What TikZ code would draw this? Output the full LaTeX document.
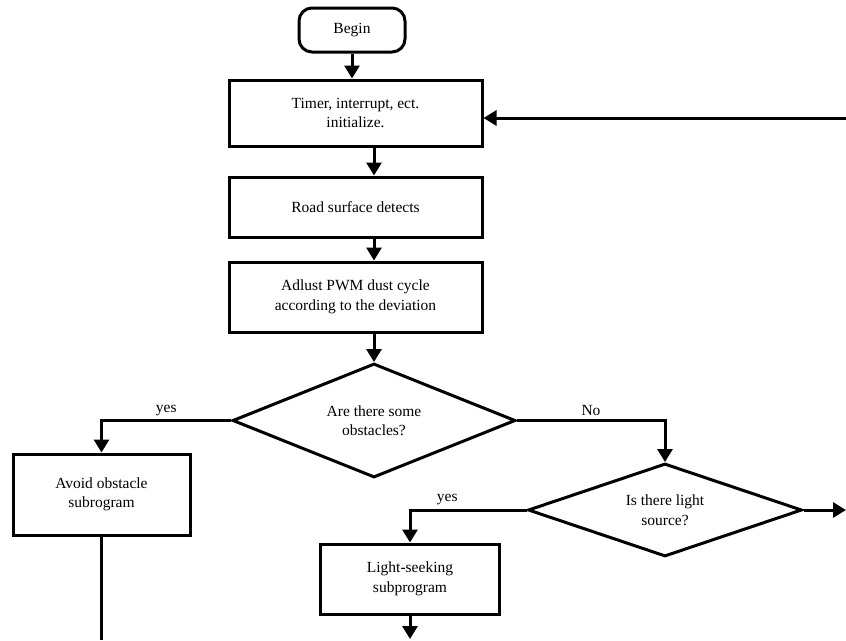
\documentclass[tikz,border=0pt]{standalone}
\usepackage{fontspec}
\setmainfont{Liberation Serif}
\usepackage{tikz}
\usetikzlibrary{shapes.geometric,arrows.meta}

\begin{document}
\begin{tikzpicture}[x=1pt,y=-1pt,
    every node/.style={font=\fontsize{15.5}{19.5}\selectfont,align=center},
    stepbox/.style={draw,line width=3pt,inner sep=2pt},
    startbox/.style={draw,line width=3pt,rounded corners=13pt,minimum width=106pt,minimum height=44pt},
    decide/.style={draw,diamond,aspect=2.6,line width=3pt,inner sep=0pt},
    flow/.style={line width=3pt,-{Triangle[width=15pt,length=13pt]}},
    plain/.style={line width=3pt}]
    \useasboundingbox (0,0) rectangle (846,640);
    \node[startbox] (begin) at (352,30) {Begin};
    \node[stepbox,minimum width=253pt,minimum height=66pt] (init) at (355.5,113) {Timer, interrupt, ect.\\initialize.};
    \node[stepbox,minimum width=253pt,minimum height=60pt] (road) at (355.5,207) {Road surface detects};
    \node[stepbox,minimum width=253pt,minimum height=70pt] (adjust) at (355.5,297) {Adlust PWM dust cycle\\according to the deviation};
    \node[decide,minimum width=283pt,minimum height=114pt] (obst) at (374,420.5) {Are there some\\obstacles?};
    \node[stepbox,minimum width=177pt,minimum height=81pt] (avoid) at (101.5,494.5) {Avoid obstacle\\subrogram};
    \node[decide,minimum width=274pt,minimum height=93pt] (light) at (665,510) {Is there light\\source?};
    \node[stepbox,minimum width=179pt,minimum height=70pt] (seek) at (410,579) {Light-seeking\\subprogram};
    \coordinate (back) at (846,118);
    \coordinate (out) at (846,510);
    \coordinate (avoidend) at (101.5,640);
    \coordinate (seekend) at (410,639);
    \draw[flow] (begin) -- (begin|-init.north);
    \draw[flow] (back) -- (back-|init.east);
    \draw[flow] (init.south-|obst.north) -- (road.north-|obst.north);
    \draw[flow] (road.south-|obst.north) -- (adjust.north-|obst.north);
    \draw[flow] (adjust.south-|obst.north) -- (obst.north);
    \draw[flow] (obst.west) -| node[pos=0.25,above]{yes} (avoid.north);
    \draw[flow] (obst.east) -| node[pos=0.25,above]{No} (light.north);
    \draw[flow] (light.west) -| node[pos=0.34,above]{yes} (seek.north);
    \draw[flow] (light.east) -- (out);
    \draw[plain] (avoid.south) -- (avoidend);
    \draw[flow] (seek.south) -- (seekend);
\end{tikzpicture}
\end{document}
